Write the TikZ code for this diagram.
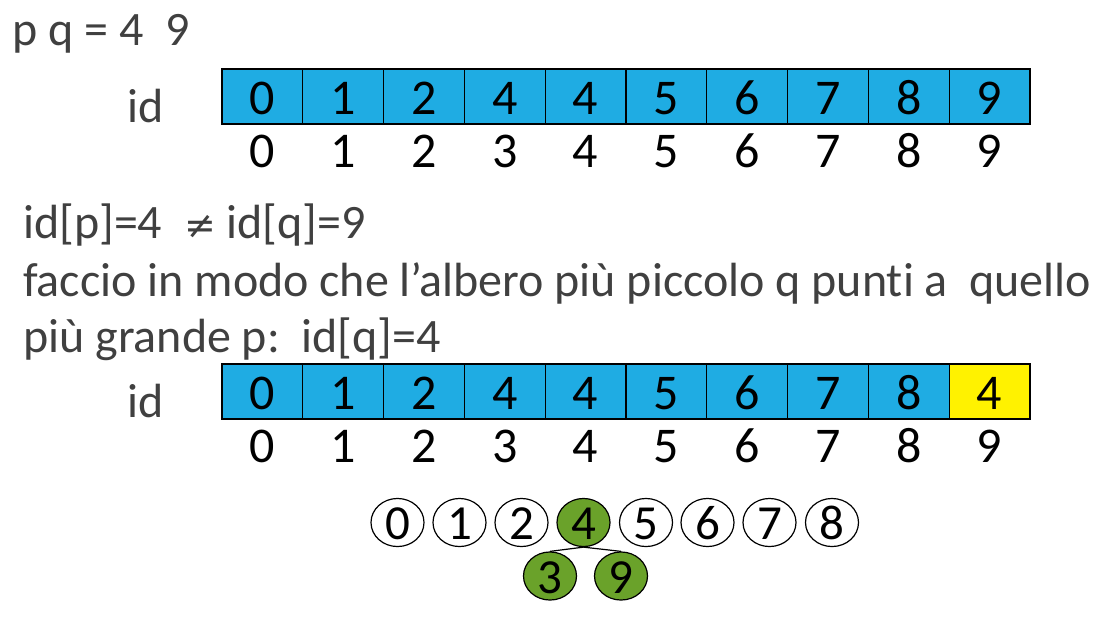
\documentclass[tikz,border=0pt]{standalone}
\usepackage{fontspec}
\setmainfont{Carlito}[Ligatures=NoCommon]
\newfontfamily\symfont{DejaVu Sans}
\usetikzlibrary{shapes.geometric}
\definecolor{cellblue}{HTML}{1FACE3}
\definecolor{txtgray}{HTML}{404040}
\definecolor{treegreen}{HTML}{6AA22A}
\tikzset{
  cell/.style={draw=black, line width=1.3pt, fill=cellblue, minimum width=80.8pt, minimum height=55pt, inner sep=0pt, text height=36pt, text depth=0pt, font=\fontsize{50}{60}\selectfont},
  hicell/.style={cell, fill=yellow},
  idx/.style={anchor=base, inner sep=0pt, font=\fontsize{50}{60}\selectfont},
  para/.style={anchor=base west, inner sep=0pt, text=txtgray, font=\fontsize{48}{56}\selectfont},
  tnode/.style={ellipse, draw=black, line width=1.2pt, fill=white, minimum width=53pt, minimum height=44pt, inner sep=0pt, text height=34pt, text depth=0pt, font=\fontsize{49}{58}\selectfont},
  gnode/.style={tnode, fill=treegreen},
  tedge/.style={draw=black, line width=1.2pt}
}
\begin{document}
\begin{tikzpicture}[x=1pt,y=-1pt]
\useasboundingbox (0,0) rectangle (1105,616);
% top line
\node[para] (pq) at (12,45) {p q = 4\ \ 9};
\node[para] (id1) at (127,122) {id};
% array 1
\foreach \v [count=\i from 0] in {0,1,2,4,4,5,6,7,8,9} {
  \node[cell] (a\i) at ({222+80.8*\i+40.4},96.5) {\v};
  \node[idx] (ia\i) at ({222+80.8*\i+40.4},167) {\i};
}
% paragraph
\node[para] (l1) at (23,238) {id[p]=4\ \ {\symfont\fontsize{38}{44}\selectfont ≠} id[q]=9};
\node[para] (l2) at (23,296) {faccio in modo che l’albero più piccolo q punti a\ \ quello};
\node[para] (l3) at (23,352) {più grande p:\ \ id[q]=4};
\node[para] (id2) at (127,417) {id};
% array 2
\foreach \v [count=\i from 0] in {0,1,2,4,4,5,6,7,8} {
  \node[cell] (b\i) at ({222+80.8*\i+40.4},391.5) {\v};
}
\node[hicell] (b9) at ({222+80.8*9+40.4},391.5) {4};
\foreach \i in {0,...,9} {
  \node[idx] (ib\i) at ({222+80.8*\i+40.4},462) {\i};
}
% tree
\node[tnode] (t0) at (397.5,522.5) {0};
\node[tnode] (t1) at (459.5,522.5) {1};
\node[tnode] (t2) at (521.5,522.5) {2};
\node[gnode] (t4) at (583.5,522.5) {4};
\node[tnode] (t5) at (646,522.5) {5};
\node[tnode] (t6) at (707.5,522.5) {6};
\node[tnode] (t7) at (769.5,522.5) {7};
\node[tnode] (t8) at (832,522.5) {8};
\node[gnode] (t3) at (550,576) {3};
\node[gnode] (t9) at (621,576) {9};
\draw[tedge] (t4.south) -- (t3.north);
\draw[tedge] (t4.south) -- (t9.north);
\end{tikzpicture}
\end{document}
